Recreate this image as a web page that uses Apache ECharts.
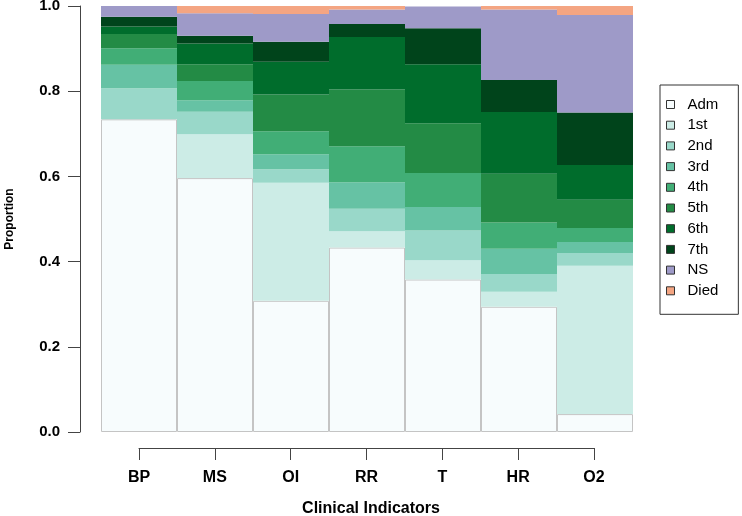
<!DOCTYPE html>
<html>
<head>
<meta charset="utf-8">
<script src="https://cdn.jsdelivr.net/npm/echarts@6/dist/echarts.min.js"></script>
<style>
html,body{margin:0;padding:0;background:#fff;}
#chart{width:742px;height:516px;}
</style>
</head>
<body>
<div id="chart"></div>
<script>
var categories = ['BP', 'MS', 'OI', 'RR', 'T', 'HR', 'O2'];
var seriesNames = ['Adm', '1st', '2nd', '3rd', '4th', '5th', '6th', '7th', 'NS', 'Died'];
var adm  = [0.734, 0.596, 0.308, 0.433, 0.358, 0.294, 0.042];
var s1st = [0.000, 0.103, 0.277, 0.038, 0.045, 0.035, 0.348];
var s2nd = [0.073, 0.053, 0.032, 0.053, 0.070, 0.042, 0.030];
var s3rd = [0.055, 0.027, 0.035, 0.062, 0.055, 0.059, 0.026];
var s4th = [0.039, 0.045, 0.054, 0.085, 0.080, 0.062, 0.033];
var s5th = [0.033, 0.039, 0.086, 0.133, 0.117, 0.114, 0.066];
var s6th = [0.018, 0.049, 0.077, 0.123, 0.138, 0.145, 0.082];
var s7th = [0.023, 0.018, 0.047, 0.031, 0.085, 0.075, 0.123];
var ns   = [0.025, 0.053, 0.065, 0.034, 0.051, 0.166, 0.229];
var died = [0.000, 0.017, 0.019, 0.009, 0.000, 0.009, 0.021];
var yTicks = [0, 0.2, 0.4, 0.6, 0.8, 1.0];

var values = [adm, s1st, s2nd, s3rd, s4th, s5th, s6th, s7th, ns, died];
var colors = ['#f7fcfd', '#ccece6', '#99d8c9', '#66c2a4', '#41ae76', '#238b45', '#006d2c', '#00441b', '#9e9ac8', '#f4a582'];
var FONT = '"Liberation Sans", Arial, sans-serif';

var series = seriesNames.map(function (name, i) {
  return {
    name: name,
    type: 'bar',
    stack: 'total',
    xAxisIndex: 0,
    yAxisIndex: 0,
    barCategoryGap: '0%',
    barGap: '0%',
    data: values[i],
    itemStyle: i === 0
      ? { color: colors[i], borderColor: '#c4c4c4', borderWidth: 1 }
      : { color: colors[i], borderWidth: 0 },
    emphasis: { disabled: true }
  };
});

var chart = echarts.init(document.getElementById('chart'), null, { renderer: 'canvas' });
chart.setOption({
  animation: false,
  backgroundColor: '#ffffff',
  color: colors,
  grid: [
    { left: 101, right: 109, top: 6, bottom: 84, containLabel: false, outerBoundsMode: 'none' },
    { left: 139, right: 148, top: 447, height: 1, containLabel: false, outerBoundsMode: 'none' }
  ],
  xAxis: [
    { type: 'category', gridIndex: 0, data: categories, show: false, boundaryGap: true },
    {
      type: 'category', gridIndex: 1, data: categories, boundaryGap: false,
      axisLine: { show: true, lineStyle: { color: '#444', width: 1 } },
      axisTick: { show: true, length: 12, lineStyle: { color: '#444', width: 1 } },
      axisLabel: { show: true, margin: 22, color: '#000', fontFamily: FONT, fontWeight: 'bold', fontSize: 16 },
      splitLine: { show: false }
    }
  ],
  yAxis: [
    {
      type: 'value', gridIndex: 0, min: 0, max: 1, interval: 0.2, offset: 21,
      name: 'Proportion', nameLocation: 'middle', nameGap: 64, nameRotate: 90,
      nameTextStyle: { color: '#000', fontFamily: FONT, fontWeight: 'bold', fontSize: 12 },
      axisLine: { show: true, lineStyle: { color: '#444', width: 1 } },
      axisTick: { show: true, length: 12, lineStyle: { color: '#444', width: 1 } },
      axisLabel: {
        margin: 20, color: '#000', fontFamily: FONT, fontWeight: 'bold', fontSize: 15,
        formatter: function (v) { return v.toFixed(1); }
      },
      splitLine: { show: false }
    },
    { type: 'value', gridIndex: 1, show: false }
  ],
  legend: {
    data: seriesNames,
    orient: 'vertical',
    left: 660,
    top: 85,
    itemWidth: 8,
    itemHeight: 8,
    itemGap: 5.7,
    icon: 'rect',
    padding: [12, 20, 16, 6],
    borderColor: '#333',
    borderWidth: 1,
    itemStyle: { borderColor: '#333', borderWidth: 1 },
    textStyle: { color: '#000', fontFamily: FONT, fontSize: 15, padding: [0, 0, 0, 8] },
    selectedMode: false
  },
  graphic: [
    {
      type: 'text', left: 'center', top: 501,
      style: { text: 'Clinical Indicators', fill: '#000', font: 'bold 16px "Liberation Sans", Arial, sans-serif' }
    }
  ],
  series: series
});
</script>
</body>
</html>
